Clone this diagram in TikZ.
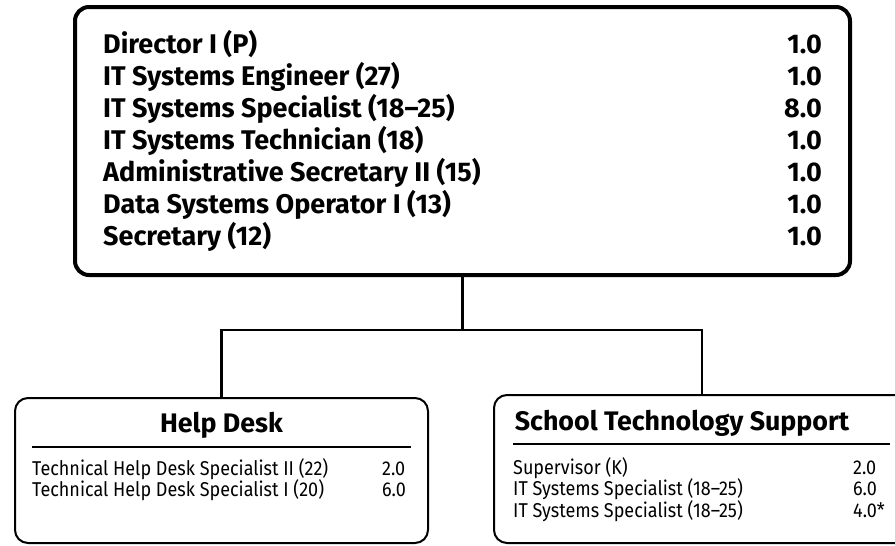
\documentclass[tikz,border=0pt]{standalone}
\usepackage{fontspec}
\setmainfont{Fira Sans}
\newfontfamily\rowfamily[Ligatures=TeX, FakeStretch=0.9]{Fira Sans}
\usetikzlibrary{calc}
\def\TitleFont{\fontsize{27}{32}\selectfont\bfseries}
\def\HeadFont{\fontsize{26.8}{30}\selectfont\bfseries}
\def\RowFont{\rowfamily\fontsize{20}{21}\selectfont}
\def\BusY{330}
\def\RowGap{21.5}

\tikzset{
  unitbox/.style={draw, line width=4pt, rounded corners=14pt, inner sep=0pt},
  groupbox/.style={draw, line width=2pt, rounded corners=13pt, inner sep=0pt},
  link/.style={line width=2.5pt},
  headrule/.style={line width=1.5pt},
  txt/.style={inner sep=0pt},
}

\begin{document}
\begin{tikzpicture}[x=1pt,y=-1pt]
\useasboundingbox (0,0) rectangle (895,546);

\node[unitbox, minimum width=775pt, minimum height=268pt] (office) at (462.5,141) {};
\node[groupbox, minimum width=413pt, minimum height=145pt] (helpdesk) at (221.5,470.5) {};
\node[groupbox, minimum width=416pt, minimum height=148pt] (support) at (702,469) {};

% staff of the office
\foreach \job/\fte [count=\i] in {Director I (P)/1.0, IT Systems Engineer (27)/1.0,
    IT Systems Specialist (18--25)/8.0, IT Systems Technician (18)/1.0,
    Administrative Secretary II (15)/1.0, Data Systems Operator I (13)/1.0,
    Secretary (12)/1.0} {
  \node[txt, anchor=base west] (job\i) at (103, 21+32*\i) {\TitleFont \job};
  \node[txt, anchor=base east] (fte\i) at (822, 21+32*\i) {\TitleFont \fte};
}

\coordinate (bus) at (462.5,\BusY);
\draw[link] (office.south) -- (bus);
\draw[link] (helpdesk.north) |- (bus) -| (support.north);

% help desk
\node[txt, anchor=base] (hdhead) at (221.5,432) {\HeadFont Help Desk};
\draw[headrule] (32,447) -- (411,447);
\foreach \job/\fte [count=\i] in {Technical Help Desk Specialist II (22)/2.0,
    Technical Help Desk Specialist I (20)/6.0} {
  \node[txt, anchor=base west] (hdjob\i) at (32, 453.5+\RowGap*\i) {\RowFont \job};
  \node[txt, anchor=base west] (hdfte\i) at (382, 453.5+\RowGap*\i) {\RowFont \fte};
}

% school technology support
\node[txt, anchor=base] (sthead) at (682,430) {\HeadFont School Technology Support};
\draw[headrule] (513,444) -- (890,444);
\foreach \job/\fte [count=\i] in {Supervisor (K)/2.0,
    IT Systems Specialist (18--25)/6.0, IT Systems Specialist (18--25)/4.0*} {
  \node[txt, anchor=base west] (stjob\i) at (513, 452.5+\RowGap*\i) {\RowFont \job};
  \node[txt, anchor=base west] (stfte\i) at (853, 452.5+\RowGap*\i) {\RowFont \fte};
}
\end{tikzpicture}
\end{document}
